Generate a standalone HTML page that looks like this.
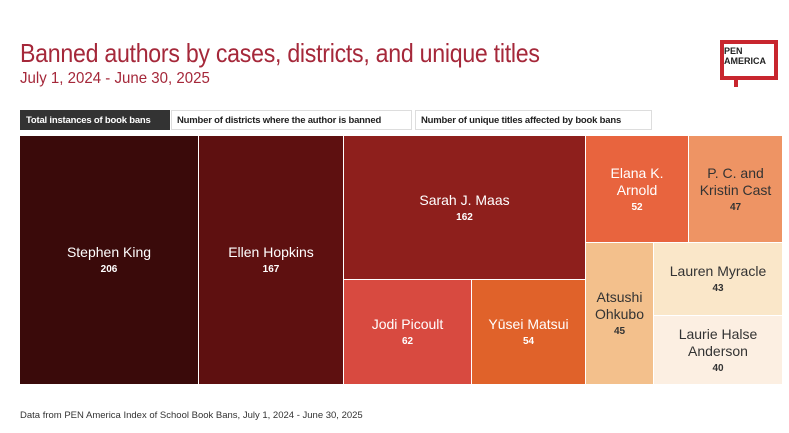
<!DOCTYPE html><html><head><style>
body{margin:0;width:789px;height:433px;background:#fff;font-family:"Liberation Sans",sans-serif;position:relative;overflow:hidden}
.a{position:absolute}
.t{position:absolute;display:flex;flex-direction:column;align-items:center;justify-content:center;text-align:center;font-size:14px;line-height:17px;box-sizing:border-box}
.t b{font-size:10px;margin-top:3px;line-height:12px}
.btn{position:absolute;top:110px;height:20px;font-size:9.5px;font-weight:bold;line-height:20px;border:1px solid #ddd;box-sizing:border-box;padding:0 5px;color:#222;letter-spacing:-0.2px}
</style></head><body>
<div class="a" style="left:20px;top:38px;font-size:26px;color:#a5283a;letter-spacing:-0.3px;transform:scaleX(0.89);transform-origin:0 0;white-space:nowrap">Banned authors by cases, districts, and unique titles</div>
<div class="a" style="left:20px;top:70px;font-size:16px;color:#a5283a;transform:scaleX(0.94);transform-origin:0 0;white-space:nowrap">July 1, 2024 - June 30, 2025</div>
<div class="a" style="left:720px;top:40px;width:58px;height:40px;border:4px solid #c8262e;box-sizing:border-box"></div>
<div class="a" style="left:734px;top:78px;width:4px;height:9px;background:#c8262e"></div>
<div class="a" style="left:724px;top:46px;font-size:9px;font-weight:bold;line-height:10px;color:#222;background:#fff">PEN<br>AMERICA</div>
<div class="btn" style="left:20px;width:150px;background:#333;color:#fff;border-color:#333">Total instances of book bans</div>
<div class="btn" style="left:171px;width:241px">Number of districts where the author is banned</div>
<div class="btn" style="left:415px;width:237px">Number of unique titles affected by book bans</div>
<div class="t" style="left:20px;top:136px;width:178px;height:248px;background:#3a0a0a;color:#fff">Stephen King<b>206</b></div>
<div class="t" style="left:199px;top:136px;width:144px;height:248px;background:#5e1010;color:#fff">Ellen Hopkins<b>167</b></div>
<div class="t" style="left:344px;top:136px;width:241px;height:143px;background:#8e1f1c;color:#fff">Sarah J. Maas<b>162</b></div>
<div class="t" style="left:344px;top:280px;width:127px;height:104px;background:#d84a40;color:#fff">Jodi Picoult<b>62</b></div>
<div class="t" style="left:472px;top:280px;width:113px;height:104px;background:#e0622a;color:#fff">Yūsei Matsui<b>54</b></div>
<div class="t" style="left:586px;top:136px;width:102px;height:106px;background:#e8643e;color:#fff">Elana K.<br>Arnold<b>52</b></div>
<div class="t" style="left:689px;top:136px;width:93px;height:106px;background:#ee9464;color:#333">P. C. and<br>Kristin Cast<b>47</b></div>
<div class="t" style="left:586px;top:243px;width:67px;height:141px;background:#f3c08c;color:#333">Atsushi<br>Ohkubo<b>45</b></div>
<div class="t" style="left:654px;top:243px;width:128px;height:72px;background:#fae7c9;color:#333">Lauren Myracle<b>43</b></div>
<div class="t" style="left:654px;top:316px;width:128px;height:68px;background:#fcefe2;color:#333">Laurie Halse<br>Anderson<b>40</b></div>
<div class="a" style="left:20px;top:410px;font-size:9.5px;color:#333">Data from PEN America Index of School Book Bans, July 1, 2024 - June 30, 2025</div>
</body></html>
